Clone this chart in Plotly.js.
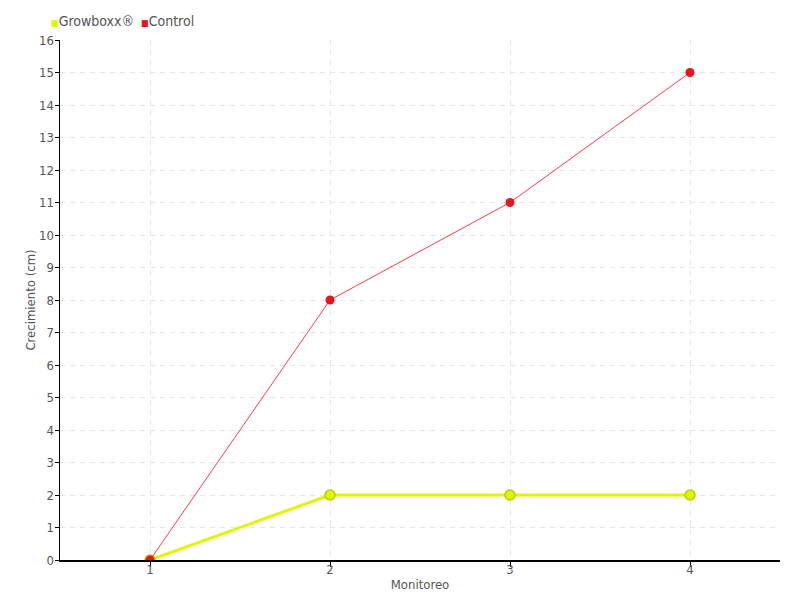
<!DOCTYPE html>
<html>
<head>
<meta charset="utf-8">
<script src="https://cdn.plot.ly/plotly-3.0.1.min.js"></script>
<style>html,body{margin:0;padding:0;background:#fff;}#chart{width:800px;height:600px;}</style>
</head>
<body>
<div id="chart"></div>
<script>
const monitoreo = [1, 2, 3, 4];
const growboxx = [0, 2, 2, 2];
const control = [0, 8, 11, 15];
const seriesNames = ["Growboxx®", "Control"];
const seriesColors = ["#e2f500", "#e8141e"];
const yTicks = [0,1,2,3,4,5,6,7,8,9,10,11,12,13,14,15,16];

const FONT = "'DejaVu Sans Condensed', 'Roboto', sans-serif";
const CLEAR = 'rgba(0,0,0,0)';

function legendLabel(i) {
  return '<span style="color:' + seriesColors[i] + ';font-size:9px">■</span>' + seriesNames[i];
}

const traces = [
  {x: monitoreo, y: growboxx, name: seriesNames[0], mode: 'lines+markers', showlegend: false,
   line: {color: '#e2f500', width: 3},
   marker: {size: 10, color: seriesColors[0], line: {color: '#b9cc00', width: 1.5}}},
  {x: monitoreo, y: control, name: seriesNames[1], mode: 'lines+markers', showlegend: false,
   line: {color: '#ff3b4a', width: 1},
   marker: {size: 9, color: seriesColors[1]}},
  {x: [null], y: [null], name: legendLabel(0), mode: 'markers',
   marker: {symbol: 'square', size: 1, color: CLEAR}},
  {x: [null], y: [null], name: legendLabel(1), mode: 'markers',
   marker: {symbol: 'square', size: 1, color: CLEAR}},
  {x: [null], y: [null], name: ' ', mode: 'markers',
   marker: {symbol: 'square', size: 1, color: CLEAR}}
];

const layout = {
  width: 800, height: 600,
  margin: {l: 60, r: 20, t: 40, b: 40, autoexpand: false},
  paper_bgcolor: '#fff', plot_bgcolor: '#fff',
  font: {family: FONT, size: 13, color: '#555', weight: 300},
  showlegend: true,
  legend: {orientation: 'h', x: -0.068, xref: 'paper', y: 1.0365, yanchor: 'middle', xanchor: 'left',
           font: {size: 14, color: '#555'}, entrywidth: 45, entrywidthmode: 'pixels', tracegroupgap: 0,
           bgcolor: CLEAR},
  xaxis: {range: [0.5, 4.5], tickvals: monitoreo, ticktext: monitoreo.map(String),
          showline: true, linecolor: '#000', linewidth: 1.5, ticks: 'outside', ticklen: 5, tickcolor: '#000',
          ticklabelstandoff: -8,
          showgrid: true, gridcolor: '#e6e6e6', griddash: '5px,5px', zeroline: false,
          tickfont: {size: 13, color: '#555'},
          title: {text: 'Monitoreo', font: {size: 13, color: '#555'}, standoff: 4}},
  yaxis: {range: [0, 16], tickvals: yTicks, ticktext: yTicks.map(String),
          showline: true, linecolor: '#000', linewidth: 1.5, ticks: 'outside', ticklen: 4, tickcolor: '#000',
          ticklabelstandoff: -2,
          showgrid: true, gridcolor: '#e6e6e6', griddash: '5px,5px', zeroline: false,
          tickfont: {size: 13, color: '#555'},
          title: {text: 'Crecimiento (cm)', font: {size: 13, color: '#555'}, standoff: 0}}
};

Plotly.newPlot('chart', traces, layout, {displayModeBar: false, staticPlot: true});
</script>
</body>
</html>
